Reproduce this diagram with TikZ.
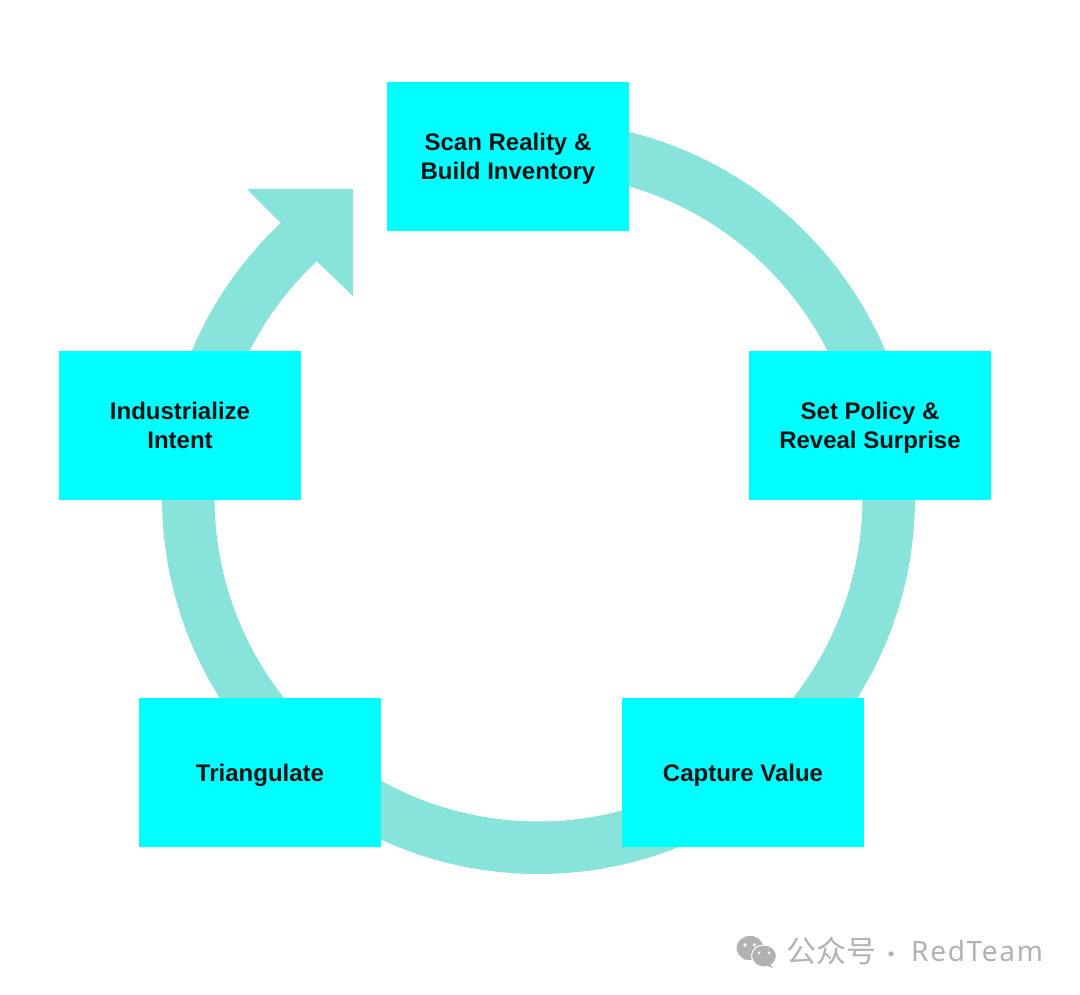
\documentclass[tikz,border=0pt]{standalone}
\usepackage{fontspec}
\setmainfont{Liberation Sans}
\newfontfamily\cjkf{Noto Sans CJK SC}
\newfontfamily\markf[LetterSpace=6]{Noto Sans}
\definecolor{ringc}{HTML}{88E3DB}
\definecolor{boxc}{HTML}{00FFFF}
\definecolor{markc}{HTML}{B2B2B2}
\definecolor{labelc}{HTML}{0C1418}
\newcommand\nodepth[1]{\raisebox{0pt}[\height][0pt]{#1}}
\tikzset{
  stagebox/.style={fill=boxc,draw=none,minimum width=242pt,minimum height=149pt,inner sep=0pt,align=center,
    font=\fontsize{24}{29}\selectfont\bfseries,text=labelc},
  marktext/.style={text=markc,inner sep=0pt,anchor=west}
}
\begin{document}
\begin{tikzpicture}[x=1pt,y=1pt]
\useasboundingbox (0,0) rectangle (1080,995);
\fill[white] (0,0) rectangle (1080,995);
\coordinate (centre) at (538.5,497.5);
% ring with arrow head
\fill[ringc] (centre) ++(90:376.5) arc[start angle=90,end angle=-226.8,radius=376.5]
  -- (247,806) -- (353,806) -- (353,699) -- ([shift={(133.2:324)}]centre)
  arc[start angle=-226.8,end angle=90,radius=324] -- cycle;
% boxes
\node[stagebox] (scan) at (508,838.5) {Scan Reality \&\\\nodepth{Build Inventory}};
\node[stagebox] (policy) at (870,569.5) {Set Policy \&\\\nodepth{Reveal Surprise}};
\node[stagebox] (capture) at (743,222.5) {\nodepth{Capture Value}};
\node[stagebox] (tri) at (260,222.5) {\nodepth{Triangulate}};
\node[stagebox] (indust) at (180,569.5) {Industrialize\\Intent};
% watermark
\fill[markc] (750,47) ellipse[x radius=13.5,y radius=12];
\fill[markc] (742,40) -- (744,35) -- (749,38) -- cycle;
\fill[markc,draw=white,line width=1pt] (764,39) ellipse[x radius=12.5,y radius=11];
\fill[markc] (770,31) -- (773,27) -- (767,29) -- cycle;
\fill[white] (745,50) circle[radius=1.8] (754.5,50) circle[radius=1.8]
  (759,42) circle[radius=1.5] (769,42) circle[radius=1.5];
\node[marktext] (wm1) at (786,43.5) {\cjkf\fontsize{30}{30}\selectfont 公众号};
\node[marktext] (wm2) at (879,37.5) {\cjkf\fontsize{24}{24}\selectfont ·};
\node[marktext] (wm3) at (911,43.5) {\markf\fontsize{28}{28}\selectfont RedTeam};
\end{tikzpicture}
\end{document}
